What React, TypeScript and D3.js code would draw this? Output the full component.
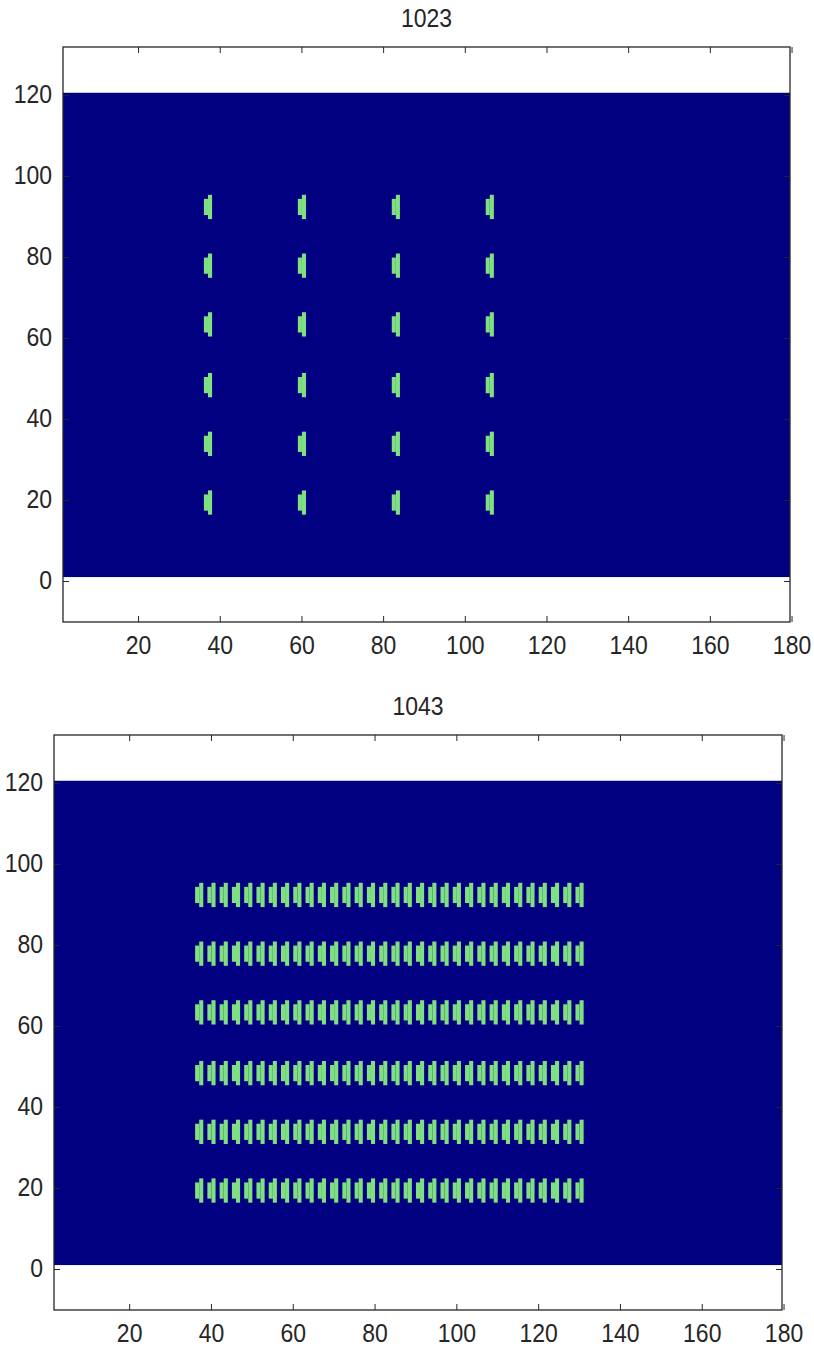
import * as d3 from 'd3'

// image index limits / axis limits (MATLAB style image plot)
const xDomain: [number, number] = [1.5, 179.5]
const yDomain: [number, number] = [-10, 132]
const imgX: [number, number] = [0.5, 180.5]
const imgY: [number, number] = [1.1, 120.7]

const xTicks = [20, 40, 60, 80, 100, 120, 140, 160, 180]
const yTicks = [0, 20, 40, 60, 80, 100, 120]

// rows of the green marks (same in both frames)
const markRows = [19.5, 34, 48.5, 63.5, 78, 92.5]

// columns of the marks, frame 1023
const cols1023 = [37, 60, 83, 106]

// columns of the marks, frame 1043
const cols1043 = [
  37, 40, 43, 46, 49, 52, 55, 58, 61, 64, 67, 70, 73, 76, 79, 82,
  85, 88, 91, 94, 97, 100, 103, 106, 109, 112, 115, 118, 121, 124, 127, 130,
]

// each mark: a short image column on the left, a tall one on the right
const markCells = [
  { dx: -1, half: 2 },
  { dx: 0, half: 3 },
]

const BLUE = '#000080'
const GREEN = '#80df80'
const FONT = '"Liberation Sans", Arial, sans-serif'

// MATLAB-ish label: a bit narrower and taller than plain Arial
function Label({ x, y, anchor, children }: { x: number, y: number, anchor: string, children: any }) {
  return (
    <text transform={`translate(${x},${y}) scale(1,1.12)`} textAnchor={anchor} dominantBaseline="middle"
      fontFamily={FONT} fontSize={23} fill="#262626">{children}</text>
  )
}

function Panel({ title, cols, left, top, width, height, id }: {
  title: string, cols: number[], left: number, top: number, width: number, height: number, id: string
}) {
  const x = d3.scaleLinear().domain(xDomain).range([0, width])
  const y = d3.scaleLinear().domain(yDomain).range([height, 0])
  const tl = 6

  return (
    <g transform={`translate(${left},${top})`}>
      <defs>
        <clipPath id={id}>
          <rect x={0} y={0} width={width} height={height} />
        </clipPath>
      </defs>
      <rect x={0} y={0} width={width} height={height} fill="#fff" />
      <g clipPath={`url(#${id})`}>
        <rect
          x={x(imgX[0])}
          y={y(imgY[1])}
          width={x(imgX[1]) - x(imgX[0])}
          height={y(imgY[0]) - y(imgY[1])}
          fill={BLUE}
        />
        {markRows.map(r =>
          cols.map(c =>
            markCells.map((m, k) => (
              <rect
                key={`${r}-${c}-${k}`}
                x={x(c + m.dx)}
                y={y(r + m.half)}
                width={x(c + m.dx + 1) - x(c + m.dx)}
                height={y(r - m.half) - y(r + m.half)}
                fill={GREEN}
              />
            ))
          )
        )}
      </g>
      {/* ticks on all four sides, pointing in */}
      {xTicks.map(t => (
        <g key={`xt${t}`} stroke="#262626" strokeWidth={1}>
          <line x1={x(t)} x2={x(t)} y1={height} y2={height - tl} />
          <line x1={x(t)} x2={x(t)} y1={0} y2={tl} />
        </g>
      ))}
      {yTicks.map(t => (
        <g key={`yt${t}`} stroke="#262626" strokeWidth={1}>
          <line x1={0} x2={tl} y1={y(t)} y2={y(t)} />
          <line x1={width} x2={width - tl} y1={y(t)} y2={y(t)} />
        </g>
      ))}
      <rect x={0} y={0} width={width} height={height} fill="none" stroke="#262626" strokeWidth={1.3} />
      {xTicks.map(t => (
        <Label key={`xl${t}`} x={x(t)} y={height + 25} anchor="middle">{t}</Label>
      ))}
      {yTicks.map(t => (
        <Label key={`yl${t}`} x={-11} y={y(t) + 1} anchor="end">{t}</Label>
      ))}
      <Label x={width / 2} y={-27} anchor="middle">{title}</Label>
    </g>
  )
}

export default function App() {
  return (
    <svg width={814} height={1352} style={{ position: 'absolute', left: 0, top: 0, background: '#fff' }}>
      <Panel id="c1" title="1023" cols={cols1023} left={63} top={47} width={727} height={575} />
      <Panel id="c2" title="1043" cols={cols1043} left={54} top={735} width={728} height={575} />
    </svg>
  )
}
